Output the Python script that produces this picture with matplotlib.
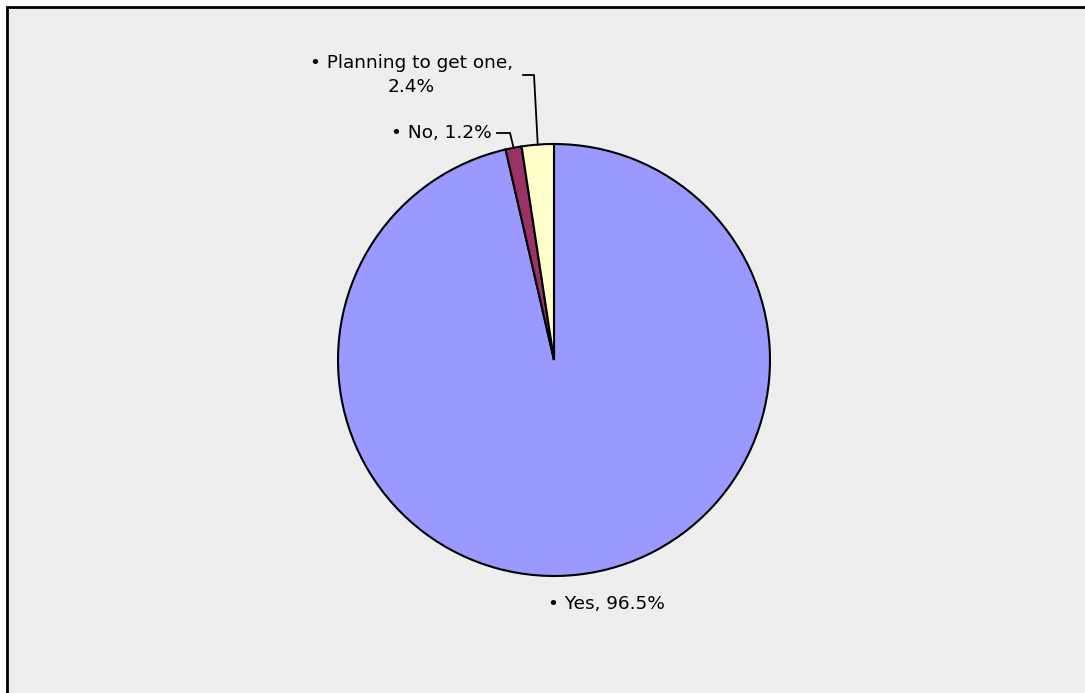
import matplotlib
matplotlib.use('Agg')
import matplotlib.pyplot as plt
from matplotlib.patches import Rectangle
import numpy as np

# survey answers, clockwise from 12 o'clock
labels = ['Yes', 'No', 'Planning to get one,']
shares = [96.5, 1.2, 2.4]
colors = ['#9999FF', '#993366', '#FFFFCC']

W, H = 1085, 693
fig = plt.figure(figsize=(W / 100, H / 100), dpi=100)
fig.patch.set_facecolor('white')

ax = fig.add_axes([0, 0, 1, 1])

# grey chart area with the black frame on top/left
ax.add_patch(Rectangle((7, -10), W + 10, H - 7 + 10, facecolor='#EEEEEE',
                       edgecolor='black', linewidth=2, zorder=0))

cx, cy, r = 554, H - 360, 216
wedges, _ = ax.pie(shares, colors=colors, startangle=90, counterclock=False,
                   center=(cx, cy), radius=r, frame=True,
                   wedgeprops=dict(edgecolor='black', linewidth=1.5))
ax.set_xlim(0, W)
ax.set_ylim(0, H)
ax.set_aspect('equal')
ax.axis('off')

fs = 13.3
ax.text(606, H - 604, '\u2022 %s, %.1f%%' % (labels[0], shares[0]), ha='center',
        va='center', fontsize=fs, color='black')
ax.text(441, H - 133, '\u2022 %s, %.1f%%' % (labels[1], shares[1]), ha='center',
        va='center', fontsize=fs, color='black')
ax.text(411, H - 75, '\u2022 %s\n%.1f%%' % (labels[2], shares[2]), ha='center',
        va='center', fontsize=fs, color='black', linespacing=1.5)


def edge_point(w):
    ang = np.deg2rad((w.theta1 + w.theta2) / 2)
    return cx + r * np.cos(ang), cy + r * np.sin(ang)


# leader lines
px, py = edge_point(wedges[1])
ax.plot([497, 510, px], [H - 133, H - 133, py], color='black', lw=1.3)
px, py = edge_point(wedges[2])
ax.plot([523, 534, px], [H - 75, H - 75, py], color='black', lw=1.3)

fig.savefig('out.png', dpi=100)
